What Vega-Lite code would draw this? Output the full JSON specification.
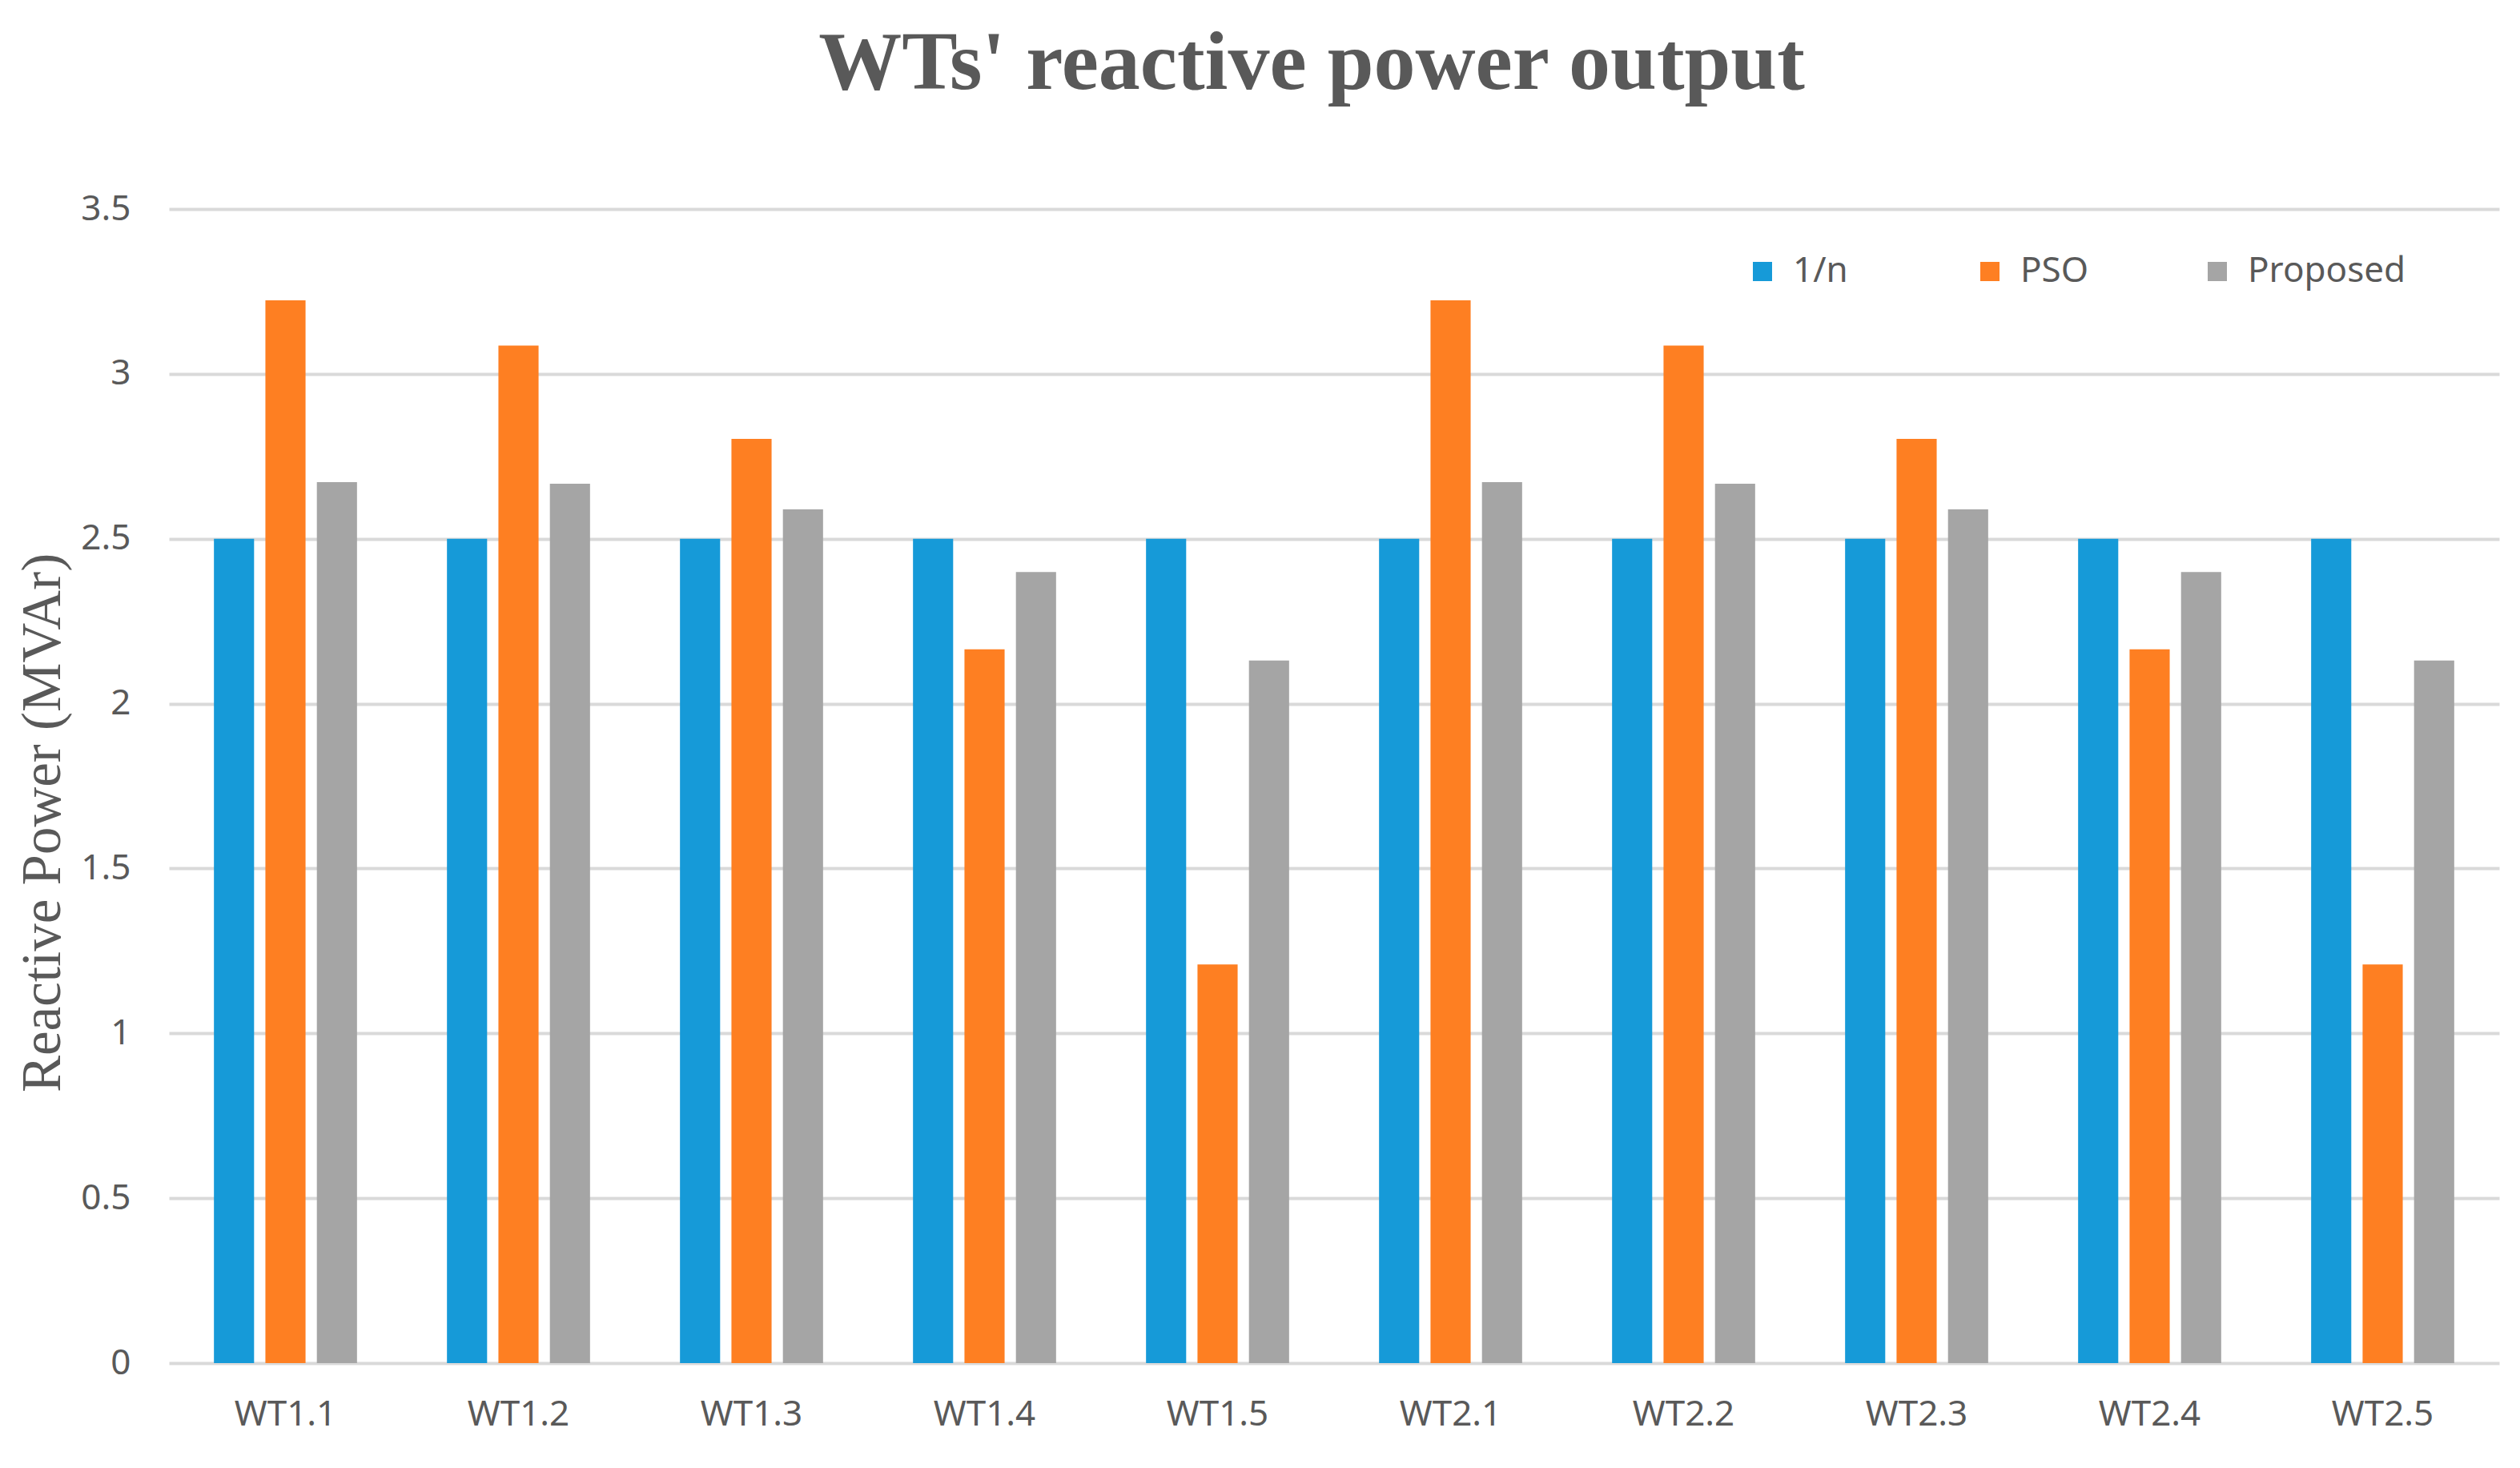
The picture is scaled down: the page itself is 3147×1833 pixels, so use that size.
{
  "$schema": "https://vega.github.io/schema/vega-lite/v6.json",
  "autosize": "none",
  "width": 2910,
  "height": 1441,
  "padding": {"left": 211, "top": 261, "right": 26, "bottom": 131},
  "background": "white",
  "title": {
    "text": "WTs' reactive power output",
    "font": "Liberation Serif",
    "fontSize": 104,
    "fontWeight": "bold",
    "color": "#595959",
    "anchor": "middle",
    "frame": "group",
    "dx": -28,
    "offset": 106
  },
  "data": {
    "values": [
      {"wt": "WT1.1", "method": "1/n", "q": 2.5},
      {"wt": "WT1.1", "method": "PSO", "q": 3.223},
      {"wt": "WT1.1", "method": "Proposed", "q": 2.672},
      {"wt": "WT1.2", "method": "1/n", "q": 2.5},
      {"wt": "WT1.2", "method": "PSO", "q": 3.086},
      {"wt": "WT1.2", "method": "Proposed", "q": 2.667},
      {"wt": "WT1.3", "method": "1/n", "q": 2.5},
      {"wt": "WT1.3", "method": "PSO", "q": 2.803},
      {"wt": "WT1.3", "method": "Proposed", "q": 2.589},
      {"wt": "WT1.4", "method": "1/n", "q": 2.5},
      {"wt": "WT1.4", "method": "PSO", "q": 2.165},
      {"wt": "WT1.4", "method": "Proposed", "q": 2.399},
      {"wt": "WT1.5", "method": "1/n", "q": 2.5},
      {"wt": "WT1.5", "method": "PSO", "q": 1.209},
      {"wt": "WT1.5", "method": "Proposed", "q": 2.131},
      {"wt": "WT2.1", "method": "1/n", "q": 2.5},
      {"wt": "WT2.1", "method": "PSO", "q": 3.223},
      {"wt": "WT2.1", "method": "Proposed", "q": 2.672},
      {"wt": "WT2.2", "method": "1/n", "q": 2.5},
      {"wt": "WT2.2", "method": "PSO", "q": 3.086},
      {"wt": "WT2.2", "method": "Proposed", "q": 2.667},
      {"wt": "WT2.3", "method": "1/n", "q": 2.5},
      {"wt": "WT2.3", "method": "PSO", "q": 2.803},
      {"wt": "WT2.3", "method": "Proposed", "q": 2.589},
      {"wt": "WT2.4", "method": "1/n", "q": 2.5},
      {"wt": "WT2.4", "method": "PSO", "q": 2.165},
      {"wt": "WT2.4", "method": "Proposed", "q": 2.399},
      {"wt": "WT2.5", "method": "1/n", "q": 2.5},
      {"wt": "WT2.5", "method": "PSO", "q": 1.209},
      {"wt": "WT2.5", "method": "Proposed", "q": 2.131}
    ]
  },
  "mark": {"type": "bar"},
  "encoding": {
    "x": {
      "field": "wt",
      "type": "nominal",
      "sort": null,
      "scale": {"paddingInner": 0.386, "paddingOuter": 0.193},
      "axis": {
        "title": null,
        "labelAngle": 0,
        "labelFont": "Noto Sans",
        "labelFontSize": 44,
        "labelColor": "#595959",
        "labelPadding": 42,
        "ticks": false,
        "domain": false,
        "grid": false
      }
    },
    "xOffset": {
      "field": "method",
      "type": "nominal",
      "sort": ["1/n", "PSO", "Proposed"],
      "scale": {"paddingInner": 0.22, "paddingOuter": 0}
    },
    "y": {
      "field": "q",
      "type": "quantitative",
      "scale": {"domain": [0, 3.5], "nice": false},
      "axis": {
        "title": "Reactive Power (MVAr)",
        "titleFont": "Liberation Serif",
        "titleFontSize": 69,
        "titleFontWeight": "normal",
        "titleColor": "#595959",
        "titlePadding": 12,
        "titleY": 766,
        "values": [0, 0.5, 1, 1.5, 2, 2.5, 3, 3.5],
        "format": "~g",
        "labelFont": "Noto Sans",
        "labelFontSize": 44,
        "labelColor": "#595959",
        "labelPadding": 48,
        "ticks": false,
        "domain": false,
        "grid": true,
        "gridColor": "#d9d9d9",
        "gridWidth": 4
      }
    },
    "color": {
      "field": "method",
      "type": "nominal",
      "sort": ["1/n", "PSO", "Proposed"],
      "scale": {"domain": ["1/n", "PSO", "Proposed"], "range": ["#169ad8", "#fe7f22", "#a5a5a5"]},
      "legend": {
        "title": null,
        "orient": "none",
        "legendX": 1968,
        "legendY": 56,
        "direction": "horizontal",
        "gridAlign": "all",
        "columnPadding": 26,
        "symbolType": "square",
        "symbolSize": 576,
        "symbolStrokeWidth": 0,
        "labelFont": "Noto Sans",
        "labelFontSize": 44,
        "labelColor": "#595959",
        "labelOffset": 16,
        "labelLimit": 400,
        "padding": 0
      }
    }
  },
  "config": {
    "view": {"stroke": null}
  }
}
